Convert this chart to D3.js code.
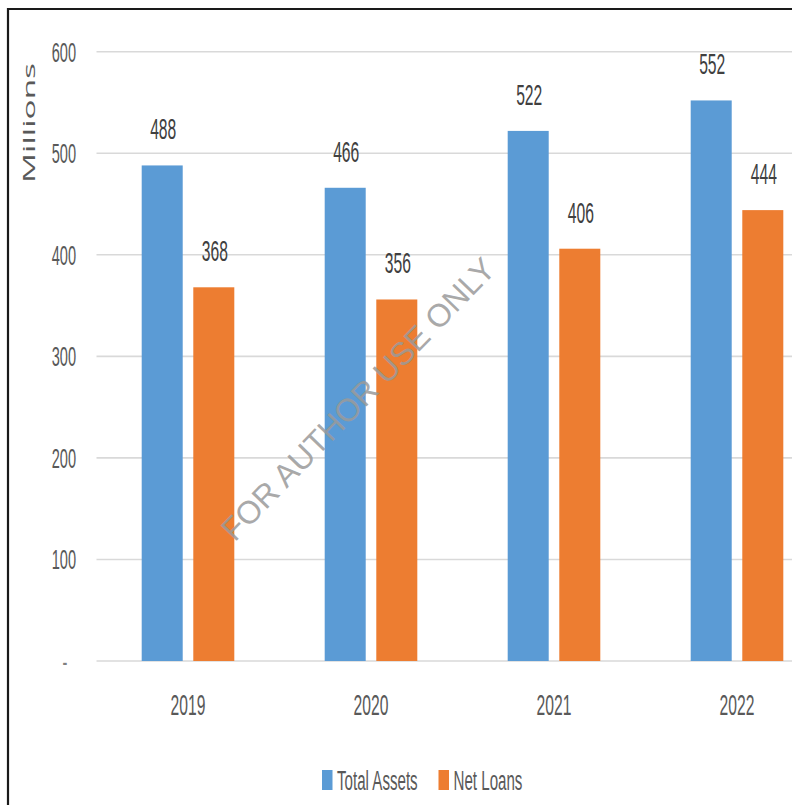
<!DOCTYPE html>
<html>
<head>
<meta charset="utf-8">
<script src="https://cdn.jsdelivr.net/npm/d3@7"></script>
<style>
  html, body { margin: 0; padding: 0; background: #fff; }
  svg { display: block; }
</style>
</head>
<body>
<script>
// Chart data
const years = ["2019", "2020", "2021", "2022"];
const seriesNames = ["Total Assets", "Net Loans"];
const totalAssets = [488, 466, 522, 552];
const netLoans = [368, 356, 406, 444];
const yTicks = [0, 100, 200, 300, 400, 500, 600];
const yTickLabels = ["-", "100", "200", "300", "400", "500", "600"];
const colors = ["#5B9BD5", "#ED7D31"];

const W = 792, H = 805;
const svg = d3.select("body").append("svg").attr("width", W).attr("height", H);

// Narrow, tall lettering: move each label's position into a transform and squeeze it horizontally
const NARROW = 0.54;
function squeeze(sel) {
  sel.each(function () {
    const t = d3.select(this);
    const x = +t.attr("x") || 0, y = +t.attr("y") || 0;
    t.attr("x", 0).attr("y", 0)
     .attr("transform", `translate(${x},${y}) scale(${NARROW},1)`);
  });
}

// Frame
svg.append("path")
  .attr("d", `M8,${H} L8,9 L${W},9`)
  .attr("fill", "none").attr("stroke", "#1a1a1a").attr("stroke-width", 2.2);

// Scales
const plotLeft = 96.5, step = 183;
const x0 = d3.scaleBand().domain(years).range([plotLeft, plotLeft + step * years.length]).padding(0);
const x1 = d3.scaleBand().domain(seriesNames).range([0, x0.bandwidth()]).paddingInner(0.205).paddingOuter(0.876);
const y = d3.scaleLinear().domain([0, 600]).range([661, 51.7]);

// Gridlines
svg.append("g").selectAll("line").data(yTicks).join("line")
  .attr("x1", plotLeft).attr("x2", W)
  .attr("y1", d => y(d)).attr("y2", d => y(d))
  .attr("stroke", "#d9d9d9").attr("stroke-width", 1.6);

// Y axis labels
const yAxis = d3.axisLeft(y).tickValues(yTicks).tickSize(0)
  .tickFormat((d, i) => yTickLabels[i]);
const yg = svg.append("g").attr("transform", "translate(76,0)").call(yAxis);
yg.select(".domain").remove();
yg.selectAll("text")
  .attr("x", 0).attr("y", 0).attr("dy", "0.35em")
  .attr("font-family", "'Liberation Sans', Arial, sans-serif")
  .attr("font-size", 27).attr("fill", "#595959");
yg.selectAll(".tick").filter(d => d === 0).select("text")
  .attr("text-anchor", "middle").attr("x", -11).attr("fill", "#7f7f7f");
yg.selectAll("text").call(squeeze);

// Axis title
svg.append("text")
  .attr("transform", "translate(35,123) rotate(-90)")
  .attr("text-anchor", "middle")
  .attr("font-family", "'Open Sans', 'Noto Sans', sans-serif")
  .attr("font-size", 17).attr("fill", "#595959")
  .attr("textLength", 120).attr("lengthAdjust", "spacingAndGlyphs")
  .text("Millions");

// Bars
const rows = years.map((yr, i) => ({ year: yr, values: [totalAssets[i], netLoans[i]] }));
const groups = svg.append("g").selectAll("g").data(rows).join("g")
  .attr("transform", d => `translate(${x0(d.year)},0)`);

groups.selectAll("rect").data(d => d.values.map((v, k) => ({ key: seriesNames[k], v, k })))
  .join("rect")
  .attr("x", d => x1(d.key))
  .attr("width", x1.bandwidth())
  .attr("y", d => y(d.v))
  .attr("height", d => y(0) - y(d.v))
  .attr("fill", d => colors[d.k]);

// Value labels
groups.selectAll("text.val").data(d => d.values.map((v, k) => ({ key: seriesNames[k], v, k })))
  .join("text").attr("class", "val")
  .attr("x", d => x1(d.key) + x1.bandwidth() / 2 + 1)
  .attr("y", d => y(d.v) - 26)
  .attr("text-anchor", "middle")
  .attr("font-family", "'Liberation Sans', Arial, sans-serif")
  .attr("font-size", 29).attr("fill", "#404040")
  .text(d => d.v)
  .call(squeeze);

// X axis labels
const xAxis = d3.axisBottom(x0).tickSize(0);
const xg = svg.append("g").attr("transform", "translate(0,661)").call(xAxis);
xg.select(".domain").remove();
xg.selectAll("text")
  .attr("x", 0).attr("y", 54).attr("dy", 0)
  .attr("font-family", "'Liberation Sans', Arial, sans-serif")
  .attr("font-size", 29).attr("fill", "#595959")
  .call(squeeze);

// Legend
const legendItems = [
  { name: seriesNames[0], color: colors[0], x: 322 },
  { name: seriesNames[1], color: colors[1], x: 438.5 }
];
const lg = svg.append("g").selectAll("g").data(legendItems).join("g")
  .attr("transform", d => `translate(${d.x},0)`);
lg.append("rect").attr("x", 0).attr("y", 770).attr("width", 10.5).attr("height", 20)
  .attr("fill", d => d.color);
lg.append("text").attr("x", 15).attr("y", 790)
  .attr("font-family", "'Liberation Sans', Arial, sans-serif")
  .attr("font-size", 28).attr("fill", "#595959")
  .text(d => d.name)
  .call(squeeze);

// Watermark
svg.append("text")
  .attr("transform", "translate(358,399) rotate(-46)")
  .attr("text-anchor", "middle").attr("dy", "0.35em")
  .attr("font-family", "'Liberation Sans', Arial, sans-serif")
  .attr("font-size", 32).attr("fill", "#9a9a9a").attr("fill-opacity", 0.85)
  .text("FOR AUTHOR USE ONLY");
</script>
</body>
</html>
